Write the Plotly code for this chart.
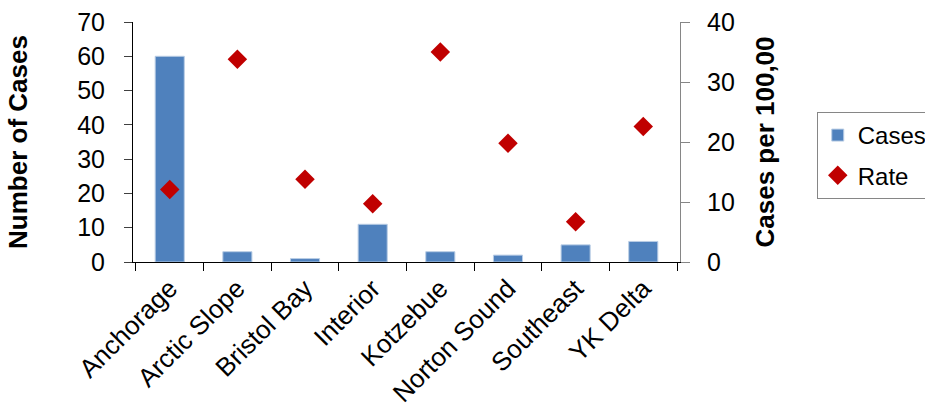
import plotly.graph_objects as go

regions = ["Anchorage", "Arctic Slope", "Bristol Bay", "Interior",
           "Kotzebue", "Norton Sound", "Southeast", "YK Delta"]
cases = [60, 3, 1, 11, 3, 2, 5, 6]
rates = [12.1, 33.8, 13.8, 9.7, 35.0, 19.8, 6.7, 22.6]

left_ticks = [0, 10, 20, 30, 40, 50, 60, 70]
right_ticks = [0, 10, 20, 30, 40]

FONT = "Liberation Sans, Arial, sans-serif"

fig = go.Figure()
fig.add_trace(go.Bar(
    x=regions, y=cases, name="Cases", width=0.43, legendgroup="cases",
    marker=dict(color="#4F81BD", line=dict(color="#B9CDE5", width=1)),
    yaxis="y",
))
fig.add_trace(go.Scatter(
    x=regions, y=rates, name="Rate", mode="markers", legendgroup="rate",
    marker=dict(symbol="diamond", size=15, color="#C00000"),
    yaxis="y2",
))

fig.update_layout(
    width=925, height=410,
    margin=dict(l=133, r=245, t=22, b=148, autoexpand=False),
    paper_bgcolor="white", plot_bgcolor="white",
    font=dict(family=FONT, size=25, color="black"),
    showlegend=True,
    legend=dict(
        x=1.25, y=0.625, xanchor="left", yanchor="top",
        bordercolor="#868686", borderwidth=1, itemwidth=30,
        font=dict(size=24), tracegroupgap=6,
    ),
    xaxis=dict(
        type="category", tickson="boundaries",
        showline=True, linecolor="black", linewidth=1,
        ticks="outside", ticklen=8, tickcolor="black",
        tickangle=-45, showgrid=False, automargin=False,
        tickfont=dict(size=26),
    ),
    yaxis=dict(
        range=[0, 70], tickvals=left_ticks, showgrid=False, zeroline=False,
        showline=True, linecolor="black", linewidth=1,
        ticks="outside", ticklen=8, tickcolor="#404040",
        ticklabelstandoff=14, automargin=False,
        title=dict(text="<b>Number of Cases</b>", font=dict(size=26), standoff=42),
    ),
    yaxis2=dict(
        range=[0, 40], tickvals=right_ticks, overlaying="y", side="right",
        showgrid=False, zeroline=False,
        showline=True, linecolor="#868686", linewidth=1,
        ticks="outside", ticklen=9, tickcolor="#868686",
        ticklabelstandoff=12, automargin=False,
        title=dict(text="<b>Cases per 100,00</b>", font=dict(size=26), standoff=21),
    ),
)

fig.write_html("out.html")
